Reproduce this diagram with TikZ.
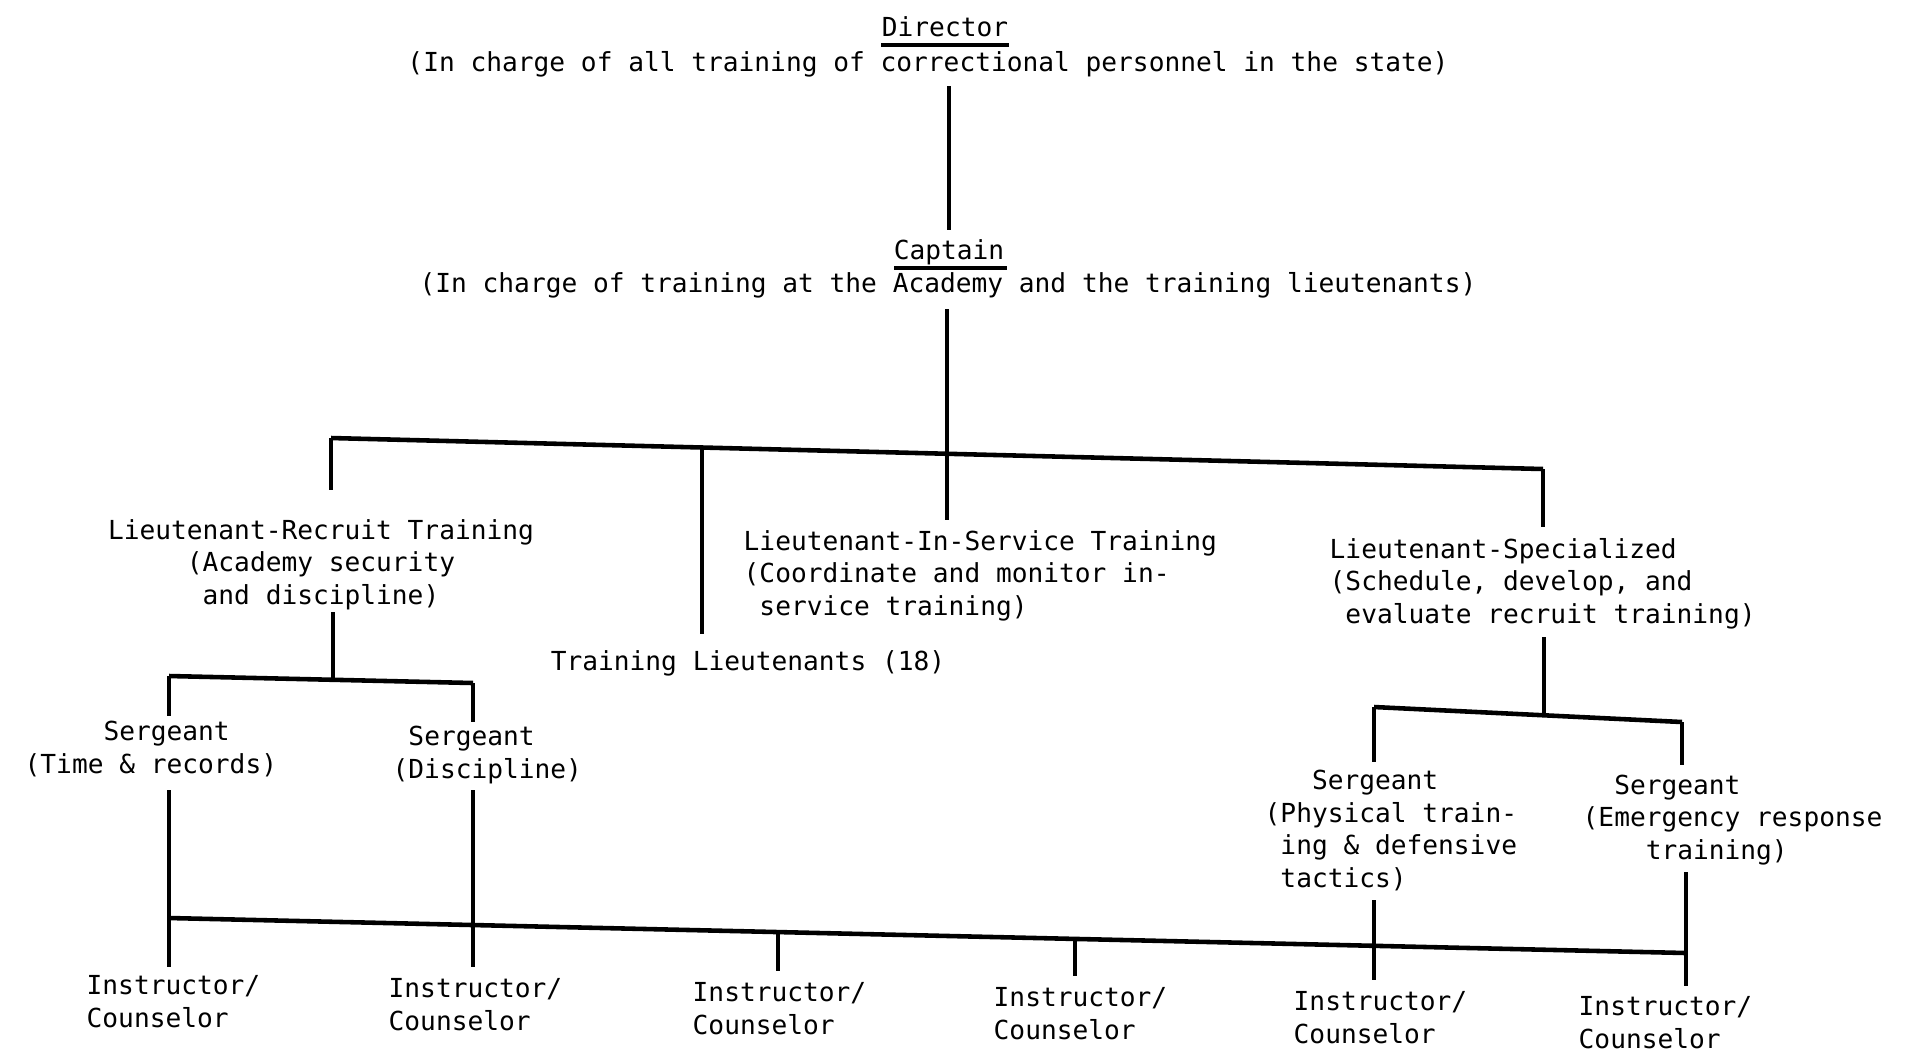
\documentclass[tikz,border=0pt]{standalone}
\usepackage{fontspec}
\newfontfamily\typew{DejaVu Sans Mono}
\begin{document}
\begin{tikzpicture}[x=0.01cm,y=-0.01cm,
 txt/.style={font=\typew\fontsize{7.45pt}{9.2pt}\selectfont,inner sep=0pt,anchor=base,align=center},
 txtl/.style={txt,anchor=base west,align=left},
 bar/.style={line width=1.3pt},
 stem/.style={line width=0.9pt}]
\useasboundingbox (0,0) rectangle (1920,1053);
\fill[white] (0,0) rectangle (1920,1053);

% text nodes (multi-line nodes are anchored at the baseline of their last line)
\node[txt] (dir) at (945,36) {Director};
\node[txt] (dird) at (928,71) {(In charge of all training of correctional personnel in the state)};
\node[txt] (cap) at (949,259) {Captain};
\node[txt] (capd) at (948,292) {(In charge of training at the Academy and the training lieutenants)};
\node[txt] (lrt) at (321,604) {Lieutenant-Recruit Training\\(Academy security\\and discipline)};
\node[txt] (tl) at (748,670) {Training Lieutenants (18)};
\node[txtl] (lis) at (743,615) {Lieutenant-In-Service Training\\(Coordinate and monitor in-\\\phantom{(}service training)};
\node[txtl] (lsp) at (1329,623) {Lieutenant-Specialized\\(Schedule, develop, and\\\phantom{(}evaluate recruit training)};
\node[txtl] (s1) at (24,773) {\phantom{(Time}Sergeant\\(Time \& records)};
\node[txtl] (s2) at (392,778) {\phantom{(}Sergeant\\(Discipline)};
\node[txtl] (s3) at (1264,887) {\phantom{(Ph}Sergeant\\(Physical train-\\\phantom{(}ing \& defensive\\\phantom{(}tactics)};
\node[txtl] (s4) at (1582,859) {\phantom{(E}Sergeant\\(Emergency response\\\phantom{(Eme}training)};
\node[txtl] (i1) at (86,1027) {Instructor/\\Counselor};
\node[txtl] (i2) at (388,1030) {Instructor/\\Counselor};
\node[txtl] (i3) at (692,1034) {Instructor/\\Counselor};
\node[txtl] (i4) at (993,1039) {Instructor/\\Counselor};
\node[txtl] (i5) at (1293,1043) {Instructor/\\Counselor};
\node[txtl] (i6) at (1578,1048) {Instructor/\\Counselor};

% underlines
\draw[stem] ([yshift=-0.09cm]dir.base west) -- ([yshift=-0.09cm]dir.base east);
\coordinate (cu0) at (894,268); \coordinate (cu1) at (1007,268);
\draw[stem] (cu0) -- (cu1);

% Director -> Captain
\coordinate (d0) at (949,86); \coordinate (d1) at (949,230);
\draw[stem] (d0) -- (d1);

% Captain -> lieutenants
\coordinate (c0) at (947,309); \coordinate (c1) at (947,520);
\draw[stem] (c0) -- (c1);
\coordinate (b1a) at (331,438); \coordinate (b1b) at (702,447.5);
\coordinate (b1d) at (1543,469);
\draw[bar] (b1a) -- (b1d);
\coordinate (lrtT) at (331,490); \draw[stem] (b1a) -- (lrtT);
\coordinate (tlT) at (702,634); \draw[stem] (b1b) -- (tlT);
\coordinate (lspT) at (1543,527); \draw[stem] (b1d) -- (lspT);

% Lt-Recruit -> sergeants
\coordinate (r0) at (333,612); \coordinate (r1) at (333,680);
\draw[stem] (r0) -- (r1);
\coordinate (b2a) at (169,676); \coordinate (b2b) at (473,683);
\draw[bar] (b2a) -- (b2b);
\coordinate (s1T) at (169,716); \draw[stem] (b2a) -- (s1T);
\coordinate (s2T) at (473,722); \draw[stem] (b2b) -- (s2T);

% Lt-Specialized -> sergeants
\coordinate (p0) at (1544,637); \coordinate (p1) at (1544,715);
\draw[stem] (p0) -- (p1);
\coordinate (b3a) at (1374,707); \coordinate (b3b) at (1682,722);
\draw[bar] (b3a) -- (b3b);
\coordinate (s3T) at (1374,762); \draw[stem] (b3a) -- (s3T);
\coordinate (s4T) at (1682,765); \draw[stem] (b3b) -- (s4T);

% bottom bar to instructors
\coordinate (b4a) at (169,918); \coordinate (b4f) at (1686,953);
\draw[bar] (b4a) -- (b4f);
\coordinate (s1B) at (169,790); \coordinate (i1T) at (169,967);
\draw[stem] (s1B) -- (i1T);
\coordinate (s2B) at (473,790); \coordinate (i2T) at (473,967);
\draw[stem] (s2B) -- (i2T);
\coordinate (b4c) at (778,932); \coordinate (i3T) at (778,971);
\draw[stem] (b4c) -- (i3T);
\coordinate (b4d) at (1075,939); \coordinate (i4T) at (1075,976);
\draw[stem] (b4d) -- (i4T);
\coordinate (s3B) at (1374,900); \coordinate (i5T) at (1374,980);
\draw[stem] (s3B) -- (i5T);
\coordinate (s4B) at (1686,872); \coordinate (i6T) at (1686,986);
\draw[stem] (s4B) -- (i6T);
\end{tikzpicture}
\end{document}
